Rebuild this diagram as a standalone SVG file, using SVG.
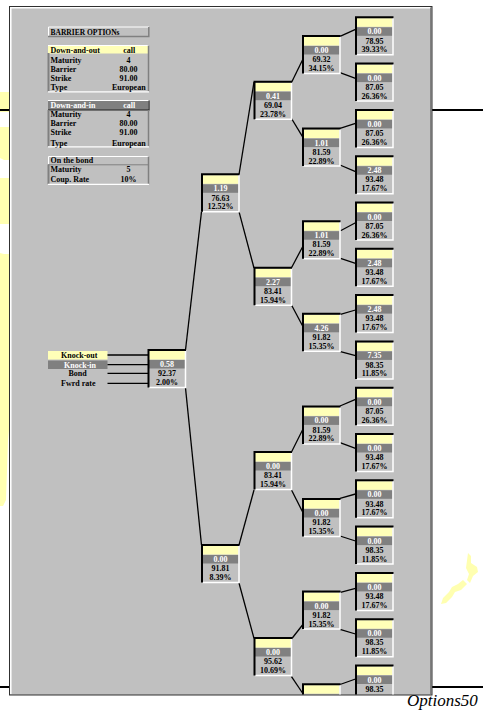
<svg xmlns="http://www.w3.org/2000/svg" xmlns:xlink="http://www.w3.org/1999/xlink" width="483" height="710" viewBox="0 0 483 710">
<style>
.t{font-family:"Liberation Serif","Times New Roman",serif;font-weight:bold;font-size:8px;fill:#000}
.w{fill:#fff}
.c{text-anchor:middle}
.ln{stroke:#000;stroke-width:1.3;fill:none}
.sp{fill:#ffffb0}
</style>
<defs>
<clipPath id="panelclip"><rect x="11" y="8" width="420" height="686.5"/></clipPath>
<g id="frame">
<rect x="1" y="1" width="36" height="8.5" fill="#ffffb8"/>
<rect x="1" y="10" width="36" height="8.5" fill="#808080"/>
<path d="M37.5,0.5 V37.5 H1" fill="none" stroke="#fff" stroke-width="1.5"/>
<path d="M0.5,37.5 V0 H38" fill="none" stroke="#000" stroke-width="2"/>
</g>
</defs>
<rect width="483" height="710" fill="#fff"/>
<g id="splotches">
<path class="sp" d="M0,92 H10 V112 H0 Z"/>
<path class="sp" d="M0,127 H10 V160 H4 L0,158 Z"/>
<path class="sp" d="M0,178 H10 V224 H0 Z"/>
<path class="sp" d="M0,253 L4,254 H10 V420 L8,440 L7,470 L6,500 L3,506 H0 Z"/>
<path class="sp" d="M468,553 L471,556 L471,563 L477,567 L478,572 L473,576 L470,583 L467,580 L469,574 L466,568 Z"/>
<path class="sp" d="M463,580 L467,584 L461,590 L455,592 L452,597 L446,603 L441,604 L443,598 L449,592 L452,587 L458,584 Z"/>
</g>
<g id="page-lines" stroke="#000" stroke-width="2">
<line x1="0" y1="110" x2="10" y2="110"/>
<line x1="432" y1="110" x2="483" y2="110"/>
<line x1="0" y1="687" x2="10" y2="687"/>
<line x1="432" y1="687" x2="483" y2="687"/>
</g>
<g id="panel">
<rect x="9.5" y="6.5" width="422.5" height="688.5" fill="#c0c0c0" stroke="#303030" stroke-width="1"/>
<path d="M10.8,694 V7.8 H430.5" fill="none" stroke="#fff" stroke-width="1.5"/>
<line x1="430.8" y1="7.5" x2="430.8" y2="694.5" stroke="#707070" stroke-width="1.2"/>
</g>
<text class="t" x="407" y="706" style="font-weight:normal;font-style:italic;font-size:17px">Options50</text>
<g clip-path="url(#panelclip)">
<g id="tbl-title">
<rect x="48" y="27" width="101" height="9.5" fill="#c0c0c0"/>
<path d="M48.5,37 V27 H149" fill="none" stroke="#fff" stroke-width="1"/>
<path d="M148.8,27 V36.5 H48" fill="none" stroke="#808080" stroke-width="1.5"/>
<text class="t" x="50.5" y="34.5" style="font-size:7.5px">BARRIER OPTIONs</text>
</g>
<g id="tbl-dao">
<rect x="48" y="46" width="100" height="7.5" fill="#ffffb8"/>
<path d="M48,45.5 H149" stroke="#fff" stroke-width="1"/>
<path d="M48.5,53 V91.5" stroke="#808080" stroke-width="2"/>
<path d="M148.5,45.5 V91.5" stroke="#808080" stroke-width="1.5"/>
<path d="M48,91.8 H149" stroke="#fff" stroke-width="1.2"/>
<text class="t" x="50.5" y="52.5">Down-and-out</text><text class="t c" x="129.3" y="52.5">call</text>
<text class="t" x="50.5" y="62.8">Maturity</text><text class="t c" x="128.5" y="62.8">4</text>
<text class="t" x="50.5" y="71.5">Barrier</text><text class="t c" x="128.5" y="71.5">80.00</text>
<text class="t" x="50.5" y="80.5">Strike</text><text class="t c" x="128.5" y="80.5">91.00</text>
<text class="t" x="50.5" y="89.8">Type</text><text class="t c" x="128.8" y="89.8">European</text>
</g>
<g id="tbl-dai">
<rect x="48" y="101" width="100" height="9" fill="#808080"/>
<path d="M48,100.5 H149" stroke="#fff" stroke-width="1"/>
<path d="M48,110 H149 V100.5" fill="none" stroke="#202020" stroke-width="1.2"/>
<path d="M48.5,110 V146.5" stroke="#808080" stroke-width="2"/>
<path d="M148.5,110 V146.5" stroke="#808080" stroke-width="1.5"/>
<path d="M48,146.8 H149" stroke="#fff" stroke-width="1.2"/>
<text class="t w" x="50.5" y="108.3">Down-and-in</text><text class="t c w" x="129.3" y="108.3">call</text>
<text class="t" x="50.5" y="117">Maturity</text><text class="t c" x="128.5" y="117">4</text>
<text class="t" x="50.5" y="126">Barrier</text><text class="t c" x="128.5" y="126">80.00</text>
<text class="t" x="50.5" y="135">Strike</text><text class="t c" x="128.5" y="135">91.00</text>
<text class="t" x="50.5" y="145.5">Type</text><text class="t c" x="128.8" y="145.5">European</text>
</g>
<g id="tbl-bond">
<path d="M48.5,164.5 V156.5 H149" fill="none" stroke="#fff" stroke-width="1"/>
<path d="M48.5,164.5 V184" stroke="#808080" stroke-width="2"/>
<path d="M148.5,156.5 V184" stroke="#808080" stroke-width="1.5"/>
<path d="M48,164.8 H149" stroke="#808080" stroke-width="1"/>
<path d="M48,184.3 H149" stroke="#fff" stroke-width="1.2"/>
<text class="t" x="50.5" y="163.3">On the bond</text>
<text class="t" x="50.5" y="172">Maturity</text><text class="t c" x="128.5" y="172">5</text>
<text class="t" x="50.5" y="182">Coup. Rate</text><text class="t c" x="128.5" y="182">10%</text>
</g>
<g id="legend">
<rect x="48" y="351" width="59.5" height="8.5" fill="#ffffb8"/>
<rect x="48" y="360.5" width="59.5" height="8.5" fill="#808080"/>
<text class="t c" x="79.2" y="358">Knock-out</text>
<text class="t c w" x="80" y="367.5">Knock-in</text>
<text class="t c" x="77.5" y="376">Bond</text>
<text class="t c" x="78.3" y="385.8">Fwrd rate</text>
</g>
<g id="connectors" class="ln">
<line x1="107.5" y1="355" x2="148" y2="355"/>
<line x1="107.5" y1="364.7" x2="148" y2="364.7"/>
<line x1="107.5" y1="373.3" x2="148" y2="373.3"/>
<line x1="107.5" y1="383.3" x2="148" y2="383.3"/>
<line x1="185.5" y1="350" x2="201.5" y2="211.7"/>
<line x1="185.5" y1="388" x2="201.5" y2="545"/>
<line x1="239" y1="174.5" x2="254" y2="82"/>
<line x1="239" y1="211.7" x2="254" y2="268"/>
<line x1="239" y1="545" x2="254" y2="490"/>
<line x1="239" y1="583" x2="254" y2="638.3"/>
<line x1="291.5" y1="82.5" x2="302.5" y2="60"/>
<line x1="291.5" y1="118.5" x2="302.5" y2="136.7"/>
<line x1="291.5" y1="267.7" x2="302.5" y2="247"/>
<line x1="291.5" y1="305" x2="302.5" y2="325.7"/>
<line x1="291.5" y1="452" x2="302.5" y2="430"/>
<line x1="291.5" y1="490" x2="302.5" y2="511.7"/>
<line x1="291.5" y1="639" x2="302.5" y2="625"/>
<line x1="291.5" y1="676.7" x2="302.5" y2="693"/>
<line x1="340" y1="36.3" x2="355.5" y2="29.3"/>
<line x1="340" y1="72.7" x2="355.5" y2="78.3"/>
<line x1="340" y1="128.3" x2="355.5" y2="123.3"/>
<line x1="340" y1="165" x2="355.5" y2="171.7"/>
<line x1="340.5" y1="230.7" x2="355.5" y2="222.7"/>
<line x1="340.5" y1="258.3" x2="355.5" y2="263.3"/>
<line x1="340.5" y1="314.3" x2="355.5" y2="310"/>
<line x1="340.5" y1="351.7" x2="355.5" y2="355.7"/>
<line x1="340" y1="406" x2="355.5" y2="399.3"/>
<line x1="340" y1="442.7" x2="355.5" y2="448.3"/>
<line x1="340" y1="498.3" x2="355.5" y2="494"/>
<line x1="340" y1="536" x2="355.5" y2="541"/>
<line x1="339.5" y1="592.7" x2="355.5" y2="588.3"/>
<line x1="340" y1="629.3" x2="355.5" y2="634"/>
<line x1="340" y1="684.5" x2="355.5" y2="679"/>
</g>
<g id="n-root" transform="translate(148,350)"><use xlink:href="#frame"/><text class="t c w" x="19" y="17">0.58</text><text class="t c" x="19" y="26.3">92.37</text><text class="t c" x="19" y="35.3">2.00%</text></g>
<g id="n-u" transform="translate(201.5,174.3)"><use xlink:href="#frame"/><text class="t c w" x="19" y="17">1.19</text><text class="t c" x="19" y="26.3">76.63</text><text class="t c" x="19" y="35">12.52%</text></g>
<g id="n-d" transform="translate(201.5,545)"><use xlink:href="#frame"/><text class="t c w" x="19" y="17">0.00</text><text class="t c" x="19" y="26.3">91.81</text><text class="t c" x="19" y="35">8.39%</text></g>
<g id="n-uu" transform="translate(254,81.7)"><use xlink:href="#frame"/><text class="t c w" x="19" y="17">0.41</text><text class="t c" x="19" y="26.3">69.04</text><text class="t c" x="19" y="35">23.78%</text></g>
<g id="n-ud" transform="translate(254,267.7)"><use xlink:href="#frame"/><text class="t c w" x="19" y="17">2.27</text><text class="t c" x="19" y="26.3">83.41</text><text class="t c" x="19" y="35">15.94%</text></g>
<g id="n-du" transform="translate(254,452)"><use xlink:href="#frame"/><text class="t c w" x="19" y="17">0.00</text><text class="t c" x="19" y="26.3">83.41</text><text class="t c" x="19" y="35">15.94%</text></g>
<g id="n-dd" transform="translate(254,638)"><use xlink:href="#frame"/><text class="t c w" x="19" y="17">0.00</text><text class="t c" x="19" y="26.3">95.62</text><text class="t c" x="19" y="35">10.69%</text></g>
<g id="n-l4-0" transform="translate(302.5,36)"><use xlink:href="#frame"/><text class="t c w" x="19" y="17">0.00</text><text class="t c" x="19" y="26.3">69.32</text><text class="t c" x="19" y="35">34.15%</text></g>
<g id="n-l4-1" transform="translate(302.5,128.6)"><use xlink:href="#frame"/><text class="t c w" x="19" y="17">1.01</text><text class="t c" x="19" y="26.3">81.59</text><text class="t c" x="19" y="35">22.89%</text></g>
<g id="n-l4-2" transform="translate(302.5,221.2)"><use xlink:href="#frame"/><text class="t c w" x="19" y="17">1.01</text><text class="t c" x="19" y="26.3">81.59</text><text class="t c" x="19" y="35">22.89%</text></g>
<g id="n-l4-3" transform="translate(302.5,313.8)"><use xlink:href="#frame"/><text class="t c w" x="19" y="17">4.26</text><text class="t c" x="19" y="26.3">91.82</text><text class="t c" x="19" y="35">15.35%</text></g>
<g id="n-l4-4" transform="translate(302.5,406.4)"><use xlink:href="#frame"/><text class="t c w" x="19" y="17">0.00</text><text class="t c" x="19" y="26.3">81.59</text><text class="t c" x="19" y="35">22.89%</text></g>
<g id="n-l4-5" transform="translate(302.5,499)"><use xlink:href="#frame"/><text class="t c w" x="19" y="17">0.00</text><text class="t c" x="19" y="26.3">91.82</text><text class="t c" x="19" y="35">15.35%</text></g>
<g id="n-l4-6" transform="translate(302.5,591.6)"><use xlink:href="#frame"/><text class="t c w" x="19" y="17">0.00</text><text class="t c" x="19" y="26.3">91.82</text><text class="t c" x="19" y="35">15.35%</text></g>
<g id="n-l4-7" transform="translate(302.5,684.2)"><use xlink:href="#frame"/></g>
<g id="n-l5-0" transform="translate(355.5,17.3)"><use xlink:href="#frame"/><text class="t c w" x="19" y="17">0.00</text><text class="t c" x="19" y="26.3">78.95</text><text class="t c" x="19" y="35">39.33%</text></g>
<g id="n-l5-1" transform="translate(355.5,63.6)"><use xlink:href="#frame"/><text class="t c w" x="19" y="17">0.00</text><text class="t c" x="19" y="26.3">87.05</text><text class="t c" x="19" y="35">26.36%</text></g>
<g id="n-l5-2" transform="translate(355.5,109.9)"><use xlink:href="#frame"/><text class="t c w" x="19" y="17">0.00</text><text class="t c" x="19" y="26.3">87.05</text><text class="t c" x="19" y="35">26.36%</text></g>
<g id="n-l5-3" transform="translate(355.5,156.2)"><use xlink:href="#frame"/><text class="t c w" x="19" y="17">2.48</text><text class="t c" x="19" y="26.3">93.48</text><text class="t c" x="19" y="35">17.67%</text></g>
<g id="n-l5-4" transform="translate(355.5,202.5)"><use xlink:href="#frame"/><text class="t c w" x="19" y="17">0.00</text><text class="t c" x="19" y="26.3">87.05</text><text class="t c" x="19" y="35">26.36%</text></g>
<g id="n-l5-5" transform="translate(355.5,248.8)"><use xlink:href="#frame"/><text class="t c w" x="19" y="17">2.48</text><text class="t c" x="19" y="26.3">93.48</text><text class="t c" x="19" y="35">17.67%</text></g>
<g id="n-l5-6" transform="translate(355.5,295.1)"><use xlink:href="#frame"/><text class="t c w" x="19" y="17">2.48</text><text class="t c" x="19" y="26.3">93.48</text><text class="t c" x="19" y="35">17.67%</text></g>
<g id="n-l5-7" transform="translate(355.5,341.4)"><use xlink:href="#frame"/><text class="t c w" x="19" y="17">7.35</text><text class="t c" x="19" y="26.3">98.35</text><text class="t c" x="19" y="35">11.85%</text></g>
<g id="n-l5-8" transform="translate(355.5,387.7)"><use xlink:href="#frame"/><text class="t c w" x="19" y="17">0.00</text><text class="t c" x="19" y="26.3">87.05</text><text class="t c" x="19" y="35">26.36%</text></g>
<g id="n-l5-9" transform="translate(355.5,434)"><use xlink:href="#frame"/><text class="t c w" x="19" y="17">0.00</text><text class="t c" x="19" y="26.3">93.48</text><text class="t c" x="19" y="35">17.67%</text></g>
<g id="n-l5-10" transform="translate(355.5,480.3)"><use xlink:href="#frame"/><text class="t c w" x="19" y="17">0.00</text><text class="t c" x="19" y="26.3">93.48</text><text class="t c" x="19" y="35">17.67%</text></g>
<g id="n-l5-11" transform="translate(355.5,526.6)"><use xlink:href="#frame"/><text class="t c w" x="19" y="17">0.00</text><text class="t c" x="19" y="26.3">98.35</text><text class="t c" x="19" y="35">11.85%</text></g>
<g id="n-l5-12" transform="translate(355.5,572.9)"><use xlink:href="#frame"/><text class="t c w" x="19" y="17">0.00</text><text class="t c" x="19" y="26.3">93.48</text><text class="t c" x="19" y="35">17.67%</text></g>
<g id="n-l5-13" transform="translate(355.5,619.2)"><use xlink:href="#frame"/><text class="t c w" x="19" y="17">0.00</text><text class="t c" x="19" y="26.3">98.35</text><text class="t c" x="19" y="35">11.85%</text></g>
<g id="n-l5-14" transform="translate(355.5,665.5)"><use xlink:href="#frame"/><text class="t c w" x="19" y="17">0.00</text><text class="t c" x="19" y="26.3">98.35</text></g>
</g>
</svg>
